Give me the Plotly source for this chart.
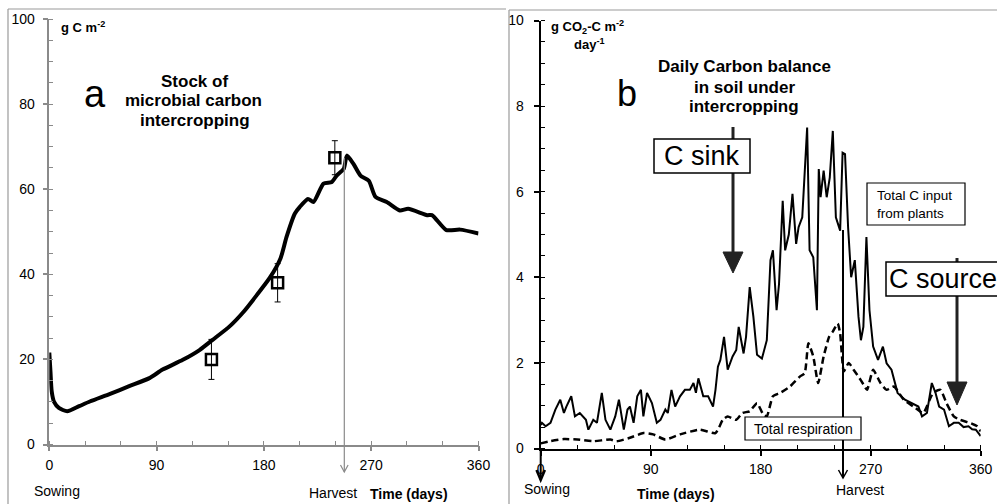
import plotly.graph_objects as go

W, H = 997, 504
FONT = "Liberation Sans, Arial, sans-serif"

# ---------------- Panel a : stock of microbial carbon ----------------
stock_days = [0, 1, 2, 4, 8, 15, 25, 34, 51, 67, 84, 95, 112, 126, 137, 151, 163,
              174, 185, 194, 199, 206, 210, 217, 221.6, 230, 237, 241, 247, 249.6,
              255, 261, 268, 273.6, 283, 294, 301, 317, 321, 333, 344.6, 360]
stock_vals = [21.6, 17.0, 12.5, 10.0, 8.6, 7.8, 9.0, 10.1, 11.9, 13.7, 15.6, 17.6,
              19.9, 22.2, 24.6, 27.7, 31.2, 35.1, 39.2, 43.8, 48.8, 54.3, 55.8, 57.7,
              57.0, 61.3, 61.7, 63.2, 64.8, 67.9, 66.0, 63.2, 62.0, 58.2, 57.0, 55.0,
              55.4, 53.9, 53.9, 50.4, 50.5, 49.6]
obs_days = [136, 191.5, 239.5]
obs_vals = [20.0, 38.0, 67.4]
obs_err = [4.7, 4.5, 4.0]

# ---------------- Panel b : daily carbon balance ----------------
input_days = [0, 1, 4, 8, 12, 16, 19, 21, 25, 28, 32, 37, 39, 43, 46, 50, 53, 57, 61,
              64, 68, 71, 73, 76, 79, 82, 84, 87, 91, 95, 98, 102, 104, 107, 110, 114,
              118, 122, 125, 127, 129, 133, 137, 141, 143, 145, 147, 150, 153, 157, 160,
              162, 166, 168, 171, 174, 177, 181, 185, 188, 190, 193, 195, 198, 200, 203,
              206, 209, 211, 214, 218, 220, 223, 226, 227.5, 229, 231.5, 234, 236.5, 239,
              241.5, 245, 247, 249, 251.5, 254, 257, 260, 262, 264, 266.5, 269, 272, 276,
              280, 283, 287, 292, 298, 303, 309, 312, 316, 320, 323, 326, 330, 334, 338,
              342, 346, 350, 353, 356, 360]
input_vals = [0.55, 0.6, 0.52, 0.6, 0.91, 1.14, 0.83, 0.98, 1.22, 0.75, 0.83, 0.67, 0.44,
              0.67, 0.6, 1.3, 0.67, 0.44, 0.75, 1.14, 0.44, 0.91, 0.98, 0.6, 1.22, 1.37,
              0.75, 1.3, 1.06, 0.6, 0.67, 0.91, 0.83, 1.37, 0.98, 1.22, 1.37, 1.37, 1.53,
              1.3, 1.64, 1.22, 1.22, 0.98, 1.37, 1.91, 2.07, 2.61, 1.84, 2.15, 2.3, 2.84,
              2.22, 2.61, 3.77, 3.08, 2.19, 2.1, 2.53, 4.4, 4.63, 3.23, 3.85, 5.79, 4.63,
              5.0, 5.95, 4.78, 5.17, 5.4, 7.5, 4.63, 4.47, 3.23, 6.53, 5.87, 6.49, 5.87,
              6.33, 7.42, 5.4, 5.09, 6.91, 6.88, 5.17, 4.0, 4.4, 3.08, 2.53, 2.84, 4.94,
              3.23, 2.38, 2.07, 2.38, 1.99, 1.84, 1.3, 1.14, 1.06, 0.98, 0.75, 0.83, 1.53,
              1.3, 0.98, 0.91, 0.52, 0.6, 0.6, 0.5, 0.52, 0.45, 0.44, 0.29]
resp_days = [0, 8, 19, 30, 43, 57, 62, 73, 84, 92, 102, 114, 130, 143, 149, 153, 160,
             165, 171, 177, 182, 185, 190, 196, 204, 212, 216, 219, 223, 227, 231.5, 236,
             239, 243, 245, 248, 252, 256, 260, 264, 267, 272, 278, 283, 289, 297, 305,
             313, 321, 327, 332, 338, 343, 351, 357, 360]
resp_vals = [0.12, 0.17, 0.22, 0.21, 0.17, 0.21, 0.17, 0.25, 0.36, 0.33, 0.21, 0.33,
             0.44, 0.36, 0.67, 0.75, 0.67, 0.83, 0.87, 1.06, 0.8, 0.75, 1.22, 1.3, 1.45,
             1.68, 1.76, 2.46, 2.15, 1.53, 2.15, 2.61, 2.73, 2.92, 2.69, 1.8, 2.0, 1.84,
             1.68, 1.5, 1.37, 1.84, 1.53, 1.37, 1.45, 1.14, 0.98, 0.83, 1.3, 1.37, 1.06,
             0.75, 0.67, 0.6, 0.52, 0.4]

x_ticks = [0, 90, 180, 270, 360]
ya_ticks = [0, 20, 40, 60, 80, 100]
yb_ticks = [0, 2, 4, 6, 8, 10]


def px(x):
    return x / W


def py(y):
    return 1 - y / H


fig = go.Figure()

fig.add_trace(go.Scatter(x=stock_days, y=stock_vals, mode="lines",
                         line=dict(color="black", width=4, shape="spline", smoothing=0.6),
                         xaxis="x", yaxis="y", showlegend=False))
fig.add_trace(go.Scatter(x=obs_days, y=obs_vals, mode="markers",
                         marker=dict(symbol="square-open", size=11, color="black",
                                     line=dict(width=2.5, color="black")),
                         error_y=dict(type="data", array=obs_err, color="black",
                                      thickness=1, width=3),
                         xaxis="x", yaxis="y", showlegend=False))
fig.add_trace(go.Scatter(x=resp_days, y=resp_vals, mode="lines",
                         line=dict(color="black", width=2.5, dash="7px,4px",
                                   shape="spline", smoothing=0.5),
                         xaxis="x2", yaxis="y2", showlegend=False))
fig.add_trace(go.Scatter(x=input_days, y=input_vals, mode="lines",
                         line=dict(color="black", width=2),
                         xaxis="x2", yaxis="y2", showlegend=False))

GRAY = "#8a8a8a"
axis_common = dict(showgrid=False, zeroline=False, showline=True, ticks="outside",
                   ticklen=5, automargin=False,
                   tickfont=dict(family=FONT, size=14, color="black"))

fig.update_layout(
    width=W, height=H, margin=dict(l=0, r=0, t=0, b=0, pad=0, autoexpand=False),
    paper_bgcolor="white", plot_bgcolor="white",
    font=dict(family=FONT, color="black"),
    xaxis=dict(domain=[px(49.3), px(478.5)], range=[0, 360], tickvals=x_ticks,
               linecolor=GRAY, linewidth=1.5, tickcolor=GRAY, tickwidth=1.5,
               ticklabelstandoff=2, anchor="y",
               minor=dict(dtick=30, ticks="inside", ticklen=4, tickcolor=GRAY, tickwidth=1.2),
               **axis_common),
    yaxis=dict(domain=[py(444.5), py(19)], range=[0, 100], tickvals=ya_ticks,
               linecolor=GRAY, linewidth=1.5, tickcolor=GRAY, tickwidth=1.5,
               ticklabelstandoff=5, anchor="x",
               minor=dict(dtick=5, ticks="inside", ticklen=4, tickcolor=GRAY, tickwidth=1.2),
               **axis_common),
    xaxis2=dict(domain=[px(540.7), px(980.7)], range=[0, 360], tickvals=x_ticks,
                linecolor="black", linewidth=2, tickcolor="black", tickwidth=1.5,
                ticklabelstandoff=2, anchor="y2",
                minor=dict(dtick=30, ticks="inside", ticklen=4, tickcolor="black", tickwidth=1.2),
                **axis_common),
    yaxis2=dict(domain=[py(448.5), py(20.5)], range=[0, 10], tickvals=yb_ticks,
                linecolor="black", linewidth=2, tickcolor="black", tickwidth=1.5,
                ticklabelstandoff=7, anchor="x2",
                minor=dict(dtick=0.5, ticks="inside", ticklen=4, tickcolor="black", tickwidth=1.2),
                **axis_common),
)

shapes = []


def line(x0, y0, x1, y1, color="black", width=1.0):
    shapes.append(dict(type="line", xref="paper", yref="paper", x0=px(x0), y0=py(y0),
                       x1=px(x1), y1=py(y1), line=dict(color=color, width=width)))


def path(pts, fill=None, color="black", width=1.0, closed=False):
    d = "M " + " L ".join(f"{px(a)},{py(b)}" for a, b in pts)
    if closed:
        d += " Z"
    shapes.append(dict(type="path", xref="paper", yref="paper", path=d,
                       fillcolor=fill if fill else "rgba(0,0,0,0)",
                       line=dict(color=color, width=width)))


def rect(x0, y0, x1, y1, width=1.5):
    shapes.append(dict(type="rect", xref="paper", yref="paper", x0=px(x0), y0=py(y1),
                       x1=px(x1), y1=py(y0), fillcolor="white",
                       line=dict(color="black", width=width)))


# panel frames
line(8, 9, 8, 504, color="#9a9a9a", width=1.2)
line(8, 9, 506, 9, color="#9a9a9a", width=1.2)
line(509, 10, 509, 504, color="#9a9a9a", width=1.2)
line(509, 10, 997, 10, color="#9a9a9a", width=1.2)

# harvest / sowing arrows
line(344.3, 158, 344.3, 472, color=GRAY, width=1.2)
path([(340.5, 465), (344.3, 472), (348.1, 465)], color=GRAY, width=1.2)
line(843, 230, 843, 478, color="black", width=2)
path([(838.5, 470), (843, 478), (847.5, 470)], color="black", width=1.5)
line(540.7, 448, 540.7, 480, color="black", width=2)
path([(536.5, 470), (540.7, 480), (544.9, 470)], color="black", width=2.5)

# C sink arrow + box
line(733, 127, 733, 253, color="#222222", width=3)
path([(723, 252), (743, 252), (733, 273)], fill="#222222", color="#222222", width=1, closed=True)
rect(654, 139, 750, 173)
# C source arrow + box
line(957, 258, 957, 383, color="#222222", width=3)
path([(947, 382), (967, 382), (957, 405)], fill="#222222", color="#222222", width=1, closed=True)
rect(886, 262, 1010, 296)
# small labelled boxes
rect(867, 183, 965, 225, width=1.2)
rect(745, 417, 861, 440, width=1.2)

fig.update_layout(shapes=shapes)

anns = []


def ann(text, x, y, size, bold=False, xanchor="center", yanchor="middle", align="center"):
    anns.append(dict(text=f"<b>{text}</b>" if bold else text, x=px(x), y=py(y),
                     xref="paper", yref="paper", showarrow=False,
                     font=dict(family=FONT, size=size, color="black"),
                     xanchor=xanchor, yanchor=yanchor, align=align))


# panel a texts
ann("g C m<sup>-2</sup>", 59, 27, 13, bold=True, xanchor="left")
ann("a", 95, 94, 38)
ann("Stock of", 194, 82, 17, bold=True)
ann("microbial carbon", 193, 101, 17, bold=True)
ann("intercropping", 195, 120, 17, bold=True)
ann("Sowing", 32, 491, 14, xanchor="left")
ann("Harvest", 307, 493, 14, xanchor="left")
ann("Time (days)", 368, 494, 14, bold=True, xanchor="left")

# panel b texts
ann("g CO<sub>2</sub>-C m<sup>-2</sup>", 549, 27, 13, bold=True, xanchor="left")
ann("day<sup>-1</sup>", 572, 44, 13, bold=True, xanchor="left")
ann("b", 627, 93, 36)
ann("Daily Carbon balance", 744, 67, 17, bold=True)
ann("in soil under", 744, 87, 17, bold=True)
ann("intercropping", 744, 106, 17, bold=True)
ann("C sink", 702, 156, 27)
ann("C source", 887, 279, 27, xanchor="left")
ann("Total C input<br>from plants", 875, 204, 13.5, xanchor="left", align="left")
ann("Total respiration", 803, 429, 14)
ann("Sowing", 522, 489, 14, xanchor="left")
ann("Time (days)", 635, 494, 14, bold=True, xanchor="left")
ann("Harvest", 834, 490, 14, xanchor="left")

fig.update_layout(annotations=anns)

fig.write_html("out.html", config={"displayModeBar": False},
               post_script="document.body.style.margin='0';document.body.style.overflow='hidden';")
